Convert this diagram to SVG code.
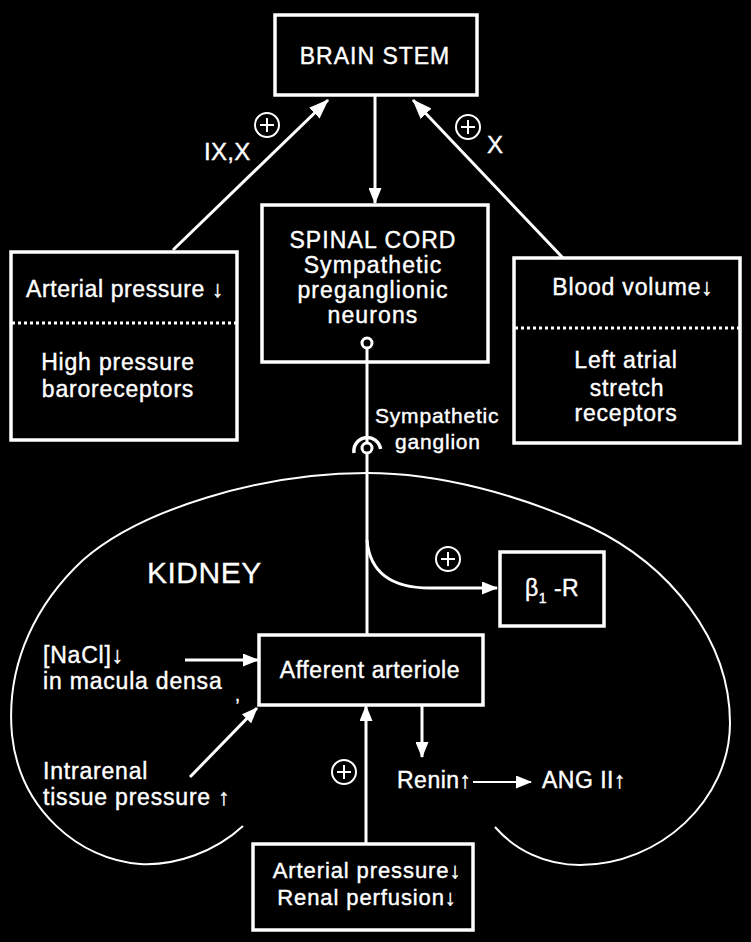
<svg xmlns="http://www.w3.org/2000/svg" width="751" height="942" viewBox="0 0 751 942">
<style>
text{font-family:"Liberation Sans",Arial,sans-serif;fill:#fff;stroke:#fff;stroke-width:0.4;font-size:23px;letter-spacing:0.8px}
.c{text-anchor:middle}
.box{fill:none;stroke:#fff;stroke-width:3.5}
.ln{fill:none;stroke:#fff;stroke-width:3}
.thin{fill:none;stroke:#fff;stroke-width:2}
.dot{stroke:#fff;stroke-width:3;stroke-dasharray:3 3}
.plus{fill:none;stroke:#fff;stroke-width:2}
</style>
<defs>
<marker id="ah" viewBox="0 0 16 13" refX="15" refY="6.5" markerWidth="16" markerHeight="13" markerUnits="userSpaceOnUse" orient="auto">
<path d="M0,0 L16,6.5 L0,13 Z" fill="#fff"/>
</marker>
<marker id="ahb" viewBox="0 0 20 15" refX="19" refY="7.5" markerWidth="20" markerHeight="15" markerUnits="userSpaceOnUse" orient="auto">
<path d="M0,0 L20,7.5 L0,15 Z" fill="#fff"/>
</marker>
</defs>
<rect width="751" height="942" fill="#000"/>

<g id="kidney">
<path class="thin" d="M243,826 C215,852 175,866 140,864 C80,860 20,810 12,735 C5,660 40,600 83,560 C140,510 260,473 367,473 C440,473 520,495 590,527 C670,565 730,640 730,723 C730,800 660,865 580,865 C545,865 515,850 495,827"/>
<text x="147" y="583" style="font-size:30px;letter-spacing:0.5px;stroke-width:0.3">KIDNEY</text>
</g>

<g id="brain-stem">
<rect class="box" x="275" y="15" width="202" height="80"/>
<text class="c" x="375" y="64" style="letter-spacing:1px">BRAIN STEM</text>
</g>

<g id="arterial-baroreceptors">
<rect class="box" x="11" y="252" width="226" height="188"/>
<text class="c" x="125" y="297" style="letter-spacing:0.6px">Arterial pressure ↓</text>
<line class="dot" x1="12" y1="323" x2="236" y2="323"/>
<text class="c" x="118" y="370">High pressure</text>
<text class="c" x="118" y="397">baroreceptors</text>
</g>

<g id="atrial-receptors">
<rect class="box" x="514" y="258" width="226" height="185"/>
<text class="c" x="633" y="295">Blood volume↓</text>
<line class="dot" x1="515" y1="328" x2="739" y2="328"/>
<text class="c" x="626" y="368">Left atrial</text>
<text class="c" x="627" y="396">stretch</text>
<text class="c" x="626" y="421">receptors</text>
</g>

<g id="spinal-cord">
<rect class="box" x="262" y="205" width="226" height="157"/>
<text class="c" x="373" y="248" style="letter-spacing:1.1px">SPINAL CORD</text>
<text class="c" x="373" y="273" style="letter-spacing:1.1px">Sympathetic</text>
<text class="c" x="373" y="298" style="letter-spacing:1.1px">preganglionic</text>
<text class="c" x="373" y="323" style="letter-spacing:1.1px">neurons</text>
<circle class="ln" cx="367" cy="343" r="5"/>
</g>

<g id="ganglion">
<circle class="ln" cx="367" cy="448" r="5"/>
<path d="M354,453 A13,13 0 0 1 380.5,449" fill="none" stroke="#fff" stroke-width="3.5"/>
<text x="375" y="423" style="font-size:21px;letter-spacing:0.8px">Sympathetic</text>
<text x="395" y="449" style="font-size:21px;letter-spacing:0.8px">ganglion</text>
</g>

<g id="beta1-r">
<rect class="box" x="500" y="552" width="104" height="74"/>
<text x="525" y="596" style="letter-spacing:0.5px">β<tspan style="font-size:14px" dy="7">1</tspan><tspan dy="-7"> -R</tspan></text>
</g>

<g id="afferent-arteriole">
<rect class="box" x="259" y="635" width="224" height="70"/>
<text class="c" x="370" y="678" style="letter-spacing:0.6px">Afferent arteriole</text>
</g>

<g id="nacl">
<text x="43" y="663">[NaCl]↓</text>
<text x="43" y="689">in macula densa</text>
<text x="235" y="701" style="font-size:18px">,</text>
</g>

<g id="intrarenal">
<text x="43" y="779">Intrarenal</text>
<text x="43" y="805">tissue pressure ↑</text>
</g>

<g id="renin">
<text x="397" y="788" style="letter-spacing:0.5px">Renin↑</text>
</g>

<g id="ang-ii">
<text x="542" y="788" style="letter-spacing:0.5px">ANG II↑</text>
</g>

<g id="renal-perfusion">
<rect class="box" x="253" y="844" width="220" height="86"/>
<text class="c" x="367" y="878" style="font-size:22px;letter-spacing:0.9px">Arterial pressure↓</text>
<text class="c" x="367" y="905" style="font-size:22px;letter-spacing:0.9px">Renal perfusion↓</text>
</g>

<g id="labels">
<text x="204" y="160" style="font-size:24px;letter-spacing:0.3px">IX,X</text>
<text x="487" y="153" style="font-size:24px">X</text>
<g class="plus">
<circle cx="267" cy="125" r="12"/><path d="M260,125 H274 M267,118 V132"/>
<circle cx="468" cy="127" r="12"/><path d="M461,127 H475 M468,120 V134"/>
<circle cx="448" cy="559" r="12"/><path d="M441,559 H455 M448,552 V566"/>
<circle cx="344" cy="772" r="12"/><path d="M337,772 H351 M344,765 V779"/>
</g>
</g>

<g id="connectors">
<line class="ln" x1="173" y1="250" x2="328" y2="100" marker-end="url(#ahb)"/>
<line class="ln" x1="563" y1="258" x2="413" y2="100" marker-end="url(#ahb)"/>
<line class="ln" x1="375" y1="95" x2="375" y2="203" marker-end="url(#ah)"/>
<line class="ln" x1="367" y1="348" x2="367" y2="443"/>
<line class="ln" x1="367" y1="453" x2="367" y2="635"/>
<path class="ln" d="M367,540 Q371,588 430,588 L497,588" marker-end="url(#ah)"/>
<line class="ln" x1="185" y1="660" x2="258" y2="660" marker-end="url(#ah)"/>
<line class="ln" x1="190" y1="777" x2="257" y2="708" marker-end="url(#ah)"/>
<line class="ln" x1="422" y1="705" x2="422" y2="757" marker-end="url(#ah)"/>
<line class="thin" x1="473" y1="782" x2="531" y2="782" marker-end="url(#ah)"/>
<line class="ln" x1="366" y1="844" x2="366" y2="706" marker-end="url(#ah)"/>
</g>
</svg>
